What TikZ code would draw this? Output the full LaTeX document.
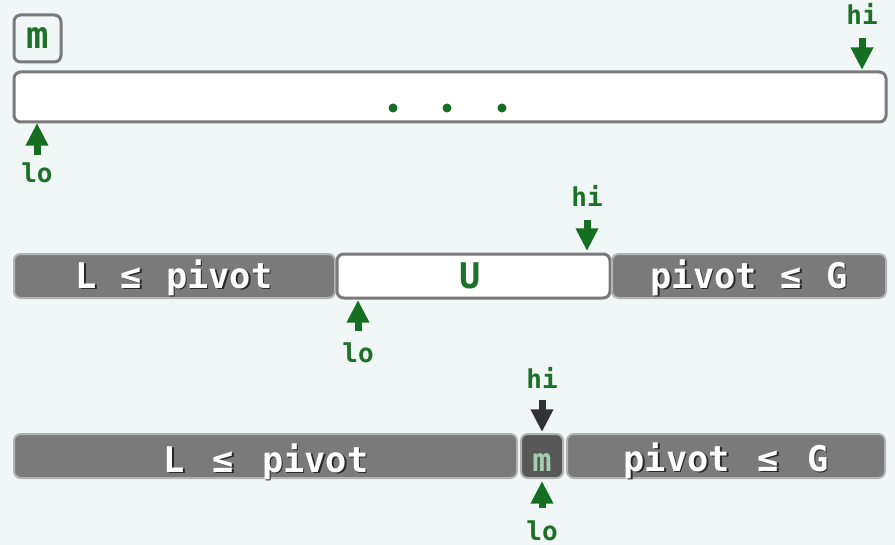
\documentclass[tikz,border=0pt]{standalone}
\usepackage{fontspec}
\usetikzlibrary{arrows.meta}
\newfontfamily\codefont{DejaVu Sans Mono}
\definecolor{bgmint}{RGB}{240,247,246}
\definecolor{ptrgreen}{RGB}{22,110,32}
\definecolor{txtgreen}{RGB}{30,112,40}
\definecolor{cellborder}{RGB}{122,122,122}
\definecolor{donefill}{RGB}{122,122,122}
\definecolor{doneborder}{RGB}{178,180,180}
\definecolor{pivfill}{RGB}{88,88,88}
\definecolor{pivtext}{RGB}{165,205,175}
\definecolor{ptrdark}{RGB}{50,50,50}
\definecolor{shadowgray}{RGB}{40,40,40}
\newcommand{\shtxt}[1]{\rlap{\kern1.2pt\raisebox{-1.2pt}{\color{shadowgray}#1}}#1}
\tikzset{
  cellbox/.style={draw=cellborder,line width=2.25pt,rounded corners=5pt,fill=white},
  donebox/.style={draw=doneborder,line width=1.5pt,rounded corners=5pt,fill=donefill},
  rangetxt/.style={font=\codefont\bfseries\fontsize{26.5}{30}\selectfont,inner sep=0pt,anchor=base},
  ptrtxt/.style={font=\codefont\bfseries\fontsize{19.5}{22}\selectfont,inner sep=0pt,anchor=base,text=txtgreen},
  ptr/.style={line width=5.25pt,-{Triangle[width=16pt,length=17pt]},draw=ptrgreen},
}
\begin{document}
\begin{tikzpicture}[x=0.75pt,y=0.75pt,yscale=-1,xscale=1]
\useasboundingbox[fill=bgmint] (0,0) rectangle (895,545);

%Shape: Rectangle [m box]
\draw [cellbox,fill=bgmint] (14,15) rectangle (61,62) ;
%Shape: Rectangle [whole range]
\draw [cellbox] (14,72) rectangle (886,122) ;
% Text Node
\node [rangetxt,text=txtgreen,font=\codefont\bfseries\fontsize{28}{30}\selectfont] (m1) at (37.5,49) {m};
% dots
\fill [ptrgreen] (393,108) circle (4.5) ;
\fill [ptrgreen] (447,108) circle (4.5) ;
\fill [ptrgreen] (502,108) circle (4.5) ;
% pointers
\node [ptrtxt] (hi1) at (862,25) {hi};
\coordinate (hi1a) at (862,38);
\coordinate (hi1b) at (862,70);
\draw [ptr] (hi1a) -- (hi1b) ;
\node [ptrtxt] (lo1) at (37,183) {lo};
\coordinate (lo1a) at (37,155);
\coordinate (lo1b) at (37,123);
\draw [ptr] (lo1a) -- (lo1b) ;

%Shape: Rectangle [second row]
\draw [donebox] (14,254) rectangle (335,298) ;
\draw [cellbox] (337,254) rectangle (610,298) ;
\draw [donebox] (612,254) rectangle (886,298) ;
% Text Node
\node [rangetxt,text=white] (L2) at (174,288) {\shtxt{L\kern2pt{} ≤\kern2pt{} pivot}};
\node [rangetxt,text=txtgreen] (U2) at (470,288) {U};
\node [rangetxt,text=white] (G2) at (749,288) {\shtxt{pivot\kern2pt{} ≤\kern2pt{} G}};
% pointers
\node [ptrtxt] (hi2) at (587,207) {hi};
\coordinate (hi2a) at (587,220);
\coordinate (hi2b) at (587,251);
\draw [ptr] (hi2a) -- (hi2b) ;
\node [ptrtxt] (lo2) at (358,362) {lo};
\coordinate (lo2a) at (358,331);
\coordinate (lo2b) at (358,300);
\draw [ptr] (lo2a) -- (lo2b) ;

%Shape: Rectangle [third row]
\draw [donebox] (14,434) rectangle (517,478) ;
\draw [donebox,fill=pivfill] (521,434) rectangle (563,478) ;
\draw [donebox] (567,434) rectangle (885,478) ;
% Text Node
\node [rangetxt,text=white] (L3) at (266,472) {\shtxt{L\kern5pt{} ≤\kern5pt{} pivot}};
\node [rangetxt,text=pivtext,font=\codefont\bfseries\fontsize{24}{28}\selectfont] (m3) at (542,471) {m};
\node [rangetxt,text=white] (G3) at (726,471) {\shtxt{pivot\kern5pt{} ≤\kern5pt{} G}};
% pointers
\node [ptrtxt] (hi3) at (542,388) {hi};
\coordinate (hi3a) at (542,400);
\coordinate (hi3b) at (542,432);
\draw [ptr,draw=ptrdark] (hi3a) -- (hi3b) ;
\node [ptrtxt] (lo3) at (542,540) {lo};
\coordinate (lo3a) at (542,508);
\coordinate (lo3b) at (542,481);
\draw [ptr] (lo3a) -- (lo3b) ;

\end{tikzpicture}
\end{document}
